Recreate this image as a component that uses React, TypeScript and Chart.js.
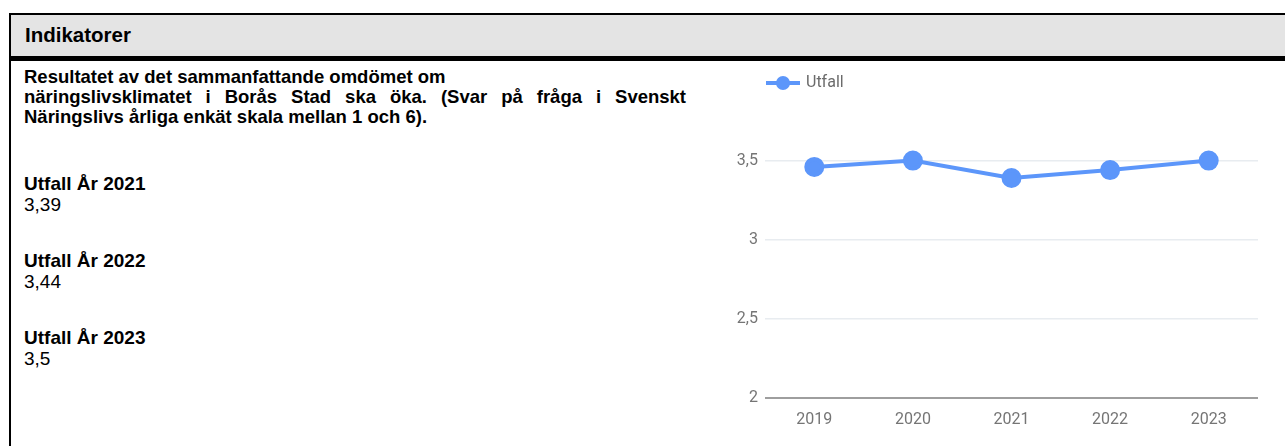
import React, { useEffect, useRef } from "react";
import { Chart, registerables } from "chart.js";

Chart.register(...registerables);

const categories = ["2019", "2020", "2021", "2022", "2023"];
const utfallValues = [3.46, 3.5, 3.39, 3.44, 3.5];
const seriesLabel = "Utfall";
const yTickValues = [2, 2.5, 3, 3.5];
const outcomeYears = ["2021", "2022", "2023"];
const outcomeValues = ["3,39", "3,44", "3,5"];

const LINE_COLOR = "#5c96fa";
const TEXT_FONT = '"Liberation Sans", Arial, sans-serif';
const CHART_FONT = 'Roboto, "Noto Sans", sans-serif';

const lineLegend = {
  id: "lineLegend",
  afterDraw(chart: any) {
    const ctx = chart.ctx;
    const ds = chart.data.datasets[0];
    const x0 = chart.chartArea.left + 1;
    const y = 21;
    ctx.save();
    ctx.strokeStyle = ds.borderColor;
    ctx.lineWidth = 4;
    ctx.beginPath();
    ctx.moveTo(x0, y);
    ctx.lineTo(x0 + 34, y);
    ctx.stroke();
    ctx.fillStyle = ds.borderColor;
    ctx.beginPath();
    ctx.arc(x0 + 17, y, 7, 0, Math.PI * 2);
    ctx.fill();
    ctx.fillStyle = "#6b6b6b";
    ctx.font = `16px ${CHART_FONT}`;
    ctx.textBaseline = "middle";
    ctx.textAlign = "left";
    ctx.fillText(ds.label, x0 + 40, y);
    ctx.restore();
  },
};

function LineChart() {
  const ref = useRef<HTMLCanvasElement | null>(null);
  useEffect(() => {
    if (!ref.current) return;
    const chart = new Chart(ref.current, {
      type: "line",
      data: {
        labels: categories,
        datasets: [
          {
            label: seriesLabel,
            data: utfallValues,
            borderColor: LINE_COLOR,
            backgroundColor: LINE_COLOR,
            pointBackgroundColor: LINE_COLOR,
            pointBorderColor: LINE_COLOR,
            borderWidth: 4,
            pointRadius: 8,
            pointHoverRadius: 8,
            tension: 0,
          },
        ],
      },
      options: {
        animation: false,
        responsive: true,
        maintainAspectRatio: false,
        layout: { padding: { top: 59, right: 27, bottom: 0, left: 0 } },
        plugins: {
          legend: { display: false },
          tooltip: { enabled: false },
        },
        scales: {
          x: {
            offset: true,
            grid: { display: false },
            border: { display: false },
            ticks: {
              color: "#757575",
              font: { family: CHART_FONT, size: 16 },
              padding: 4,
            },
            afterFit: (s: any) => {
              s.height = 48;
            },
          },
          y: {
            min: 2,
            max: 3.75,
            border: { display: false },
            grid: {
              drawTicks: false,
              color: (c: any) => (c.tick && c.tick.value === 2 ? "#9e9e9e" : "#e8ecf0"),
              lineWidth: (c: any) => (c.tick && c.tick.value === 2 ? 2 : 1.5),
            },
            ticks: {
              color: "#757575",
              font: { family: CHART_FONT, size: 16 },
              padding: 7,
              callback: (v: any) => String(v).replace(".", ","),
            },
            afterBuildTicks: (s: any) => {
              s.ticks = yTickValues.map((v) => ({ value: v }));
            },
            afterFit: (s: any) => {
              s.width = 53;
            },
          },
        },
      },
      plugins: [lineLegend],
    });
    return () => chart.destroy();
  }, []);
  return <canvas ref={ref} />;
}

export default function App() {
  const bold: React.CSSProperties = { fontWeight: "bold" };
  return (
    <div
      style={{
        position: "relative",
        width: 1285,
        height: 446,
        overflow: "hidden",
        fontFamily: TEXT_FONT,
        color: "#000",
        background: "#fff",
      }}
    >
      <style>{"body{margin:0;overflow:hidden}"}</style>
      {/* frame */}
      <div style={{ position: "absolute", left: 9, top: 13, width: 1276, height: 2, background: "#000" }} />
      <div style={{ position: "absolute", left: 9, top: 13, width: 2, height: 433, background: "#000" }} />
      <div style={{ position: "absolute", left: 11, top: 15, right: 0, height: 41, background: "#e4e4e4" }} />
      <div style={{ position: "absolute", left: 11, top: 56, right: 0, height: 5, background: "#000" }} />
      <div
        style={{
          position: "absolute",
          left: 25,
          top: 25,
          fontSize: 20.5,
          lineHeight: "20px",
          ...bold,
        }}
      >
        Indikatorer
      </div>
      <div style={{ position: "absolute", left: 24, top: 67, width: 662, fontSize: 18.5, lineHeight: "20px" }}>
        <div style={{ ...bold, textAlign: "justify" }}>
          Resultatet av det sammanfattande omdömet om
          <br />
          näringslivsklimatet i Borås Stad ska öka. (Svar på fråga i Svenskt Näringslivs årliga enkät skala mellan 1
          och 6).
        </div>
        {outcomeYears.map((yr, i) => (
          <div key={yr} style={{ marginTop: i === 0 ? 47 : 36, fontSize: 19, lineHeight: "20.5px" }}>
            <div style={bold}>Utfall År {yr}</div>
            <div>{outcomeValues[i]}</div>
          </div>
        ))}
      </div>
      <div style={{ position: "absolute", left: 712, top: 62, width: 573, height: 384 }}>
        <LineChart />
      </div>
    </div>
  );
}
